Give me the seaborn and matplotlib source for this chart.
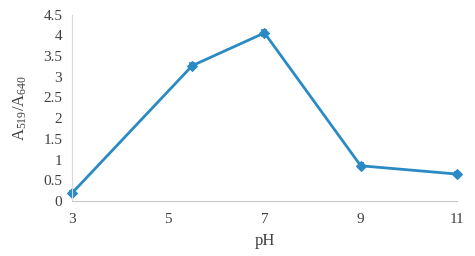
import matplotlib
matplotlib.use("Agg")
import matplotlib.pyplot as plt
import seaborn as sns
import pandas as pd

ph = [3, 5.5, 7, 9, 11]
ratio = [0.19, 3.27, 4.06, 0.85, 0.65]
err = [0.05, 0.07, 0.07, 0.06, 0.05]
xticks = [3, 5, 7, 9, 11]
yticks = [0, 0.5, 1, 1.5, 2, 2.5, 3, 3.5, 4, 4.5]

sns.set_theme(style="white")
plt.rcParams['font.family'] = ['Liberation Serif', 'DejaVu Serif']
plt.rcParams['mathtext.fontset'] = 'custom'
plt.rcParams['mathtext.rm'] = 'Liberation Serif'
plt.rcParams['mathtext.it'] = 'Liberation Serif:italic'
plt.rcParams['mathtext.bf'] = 'Liberation Serif:bold'

df = pd.DataFrame({"pH": ph, "ratio": ratio})
color = "#2a8bc4"

fig = plt.figure(figsize=(4.75, 2.56), dpi=100)
ax = fig.add_axes([0.1516, 0.215, 0.8104, 0.7276])
sns.lineplot(data=df, x="pH", y="ratio", ax=ax, color=color, linewidth=2,
             marker="D", markersize=5.5, markeredgecolor=color, clip_on=False)
ax.errorbar(ph, ratio, yerr=err, fmt="none", ecolor=color, elinewidth=1.2,
            capsize=2.5, capthick=1.2, clip_on=False)

ax.set_xlim(3, 11)
ax.set_ylim(0, 4.5)
ax.set_xticks(xticks)
ax.set_xticklabels([str(t) for t in xticks])
ax.set_yticks(yticks)
ax.set_yticklabels([f"{t:g}" for t in yticks])
for s in ["top", "right"]:
    ax.spines[s].set_visible(False)
ax.spines["left"].set_color("#d9d9d9")
ax.spines["bottom"].set_color("#c8c8c8")
ax.spines["left"].set_linewidth(0.8)
ax.spines["bottom"].set_linewidth(0.8)
ax.tick_params(axis="both", which="both", direction="out", length=4, width=0.8,
               color="#c8c8c8", labelsize=11, labelcolor="#404040", pad=5)
ax.tick_params(axis="y", pad=3)
ax.set_xlabel("pH", fontsize=12, color="#404040", labelpad=5)
ax.set_ylabel("A$_{\\mathrm{519}}$/A$_{\\mathrm{640}}$", fontsize=12, color="#404040", labelpad=10)
ax.grid(False)
fig.savefig("out.png", dpi=100)
